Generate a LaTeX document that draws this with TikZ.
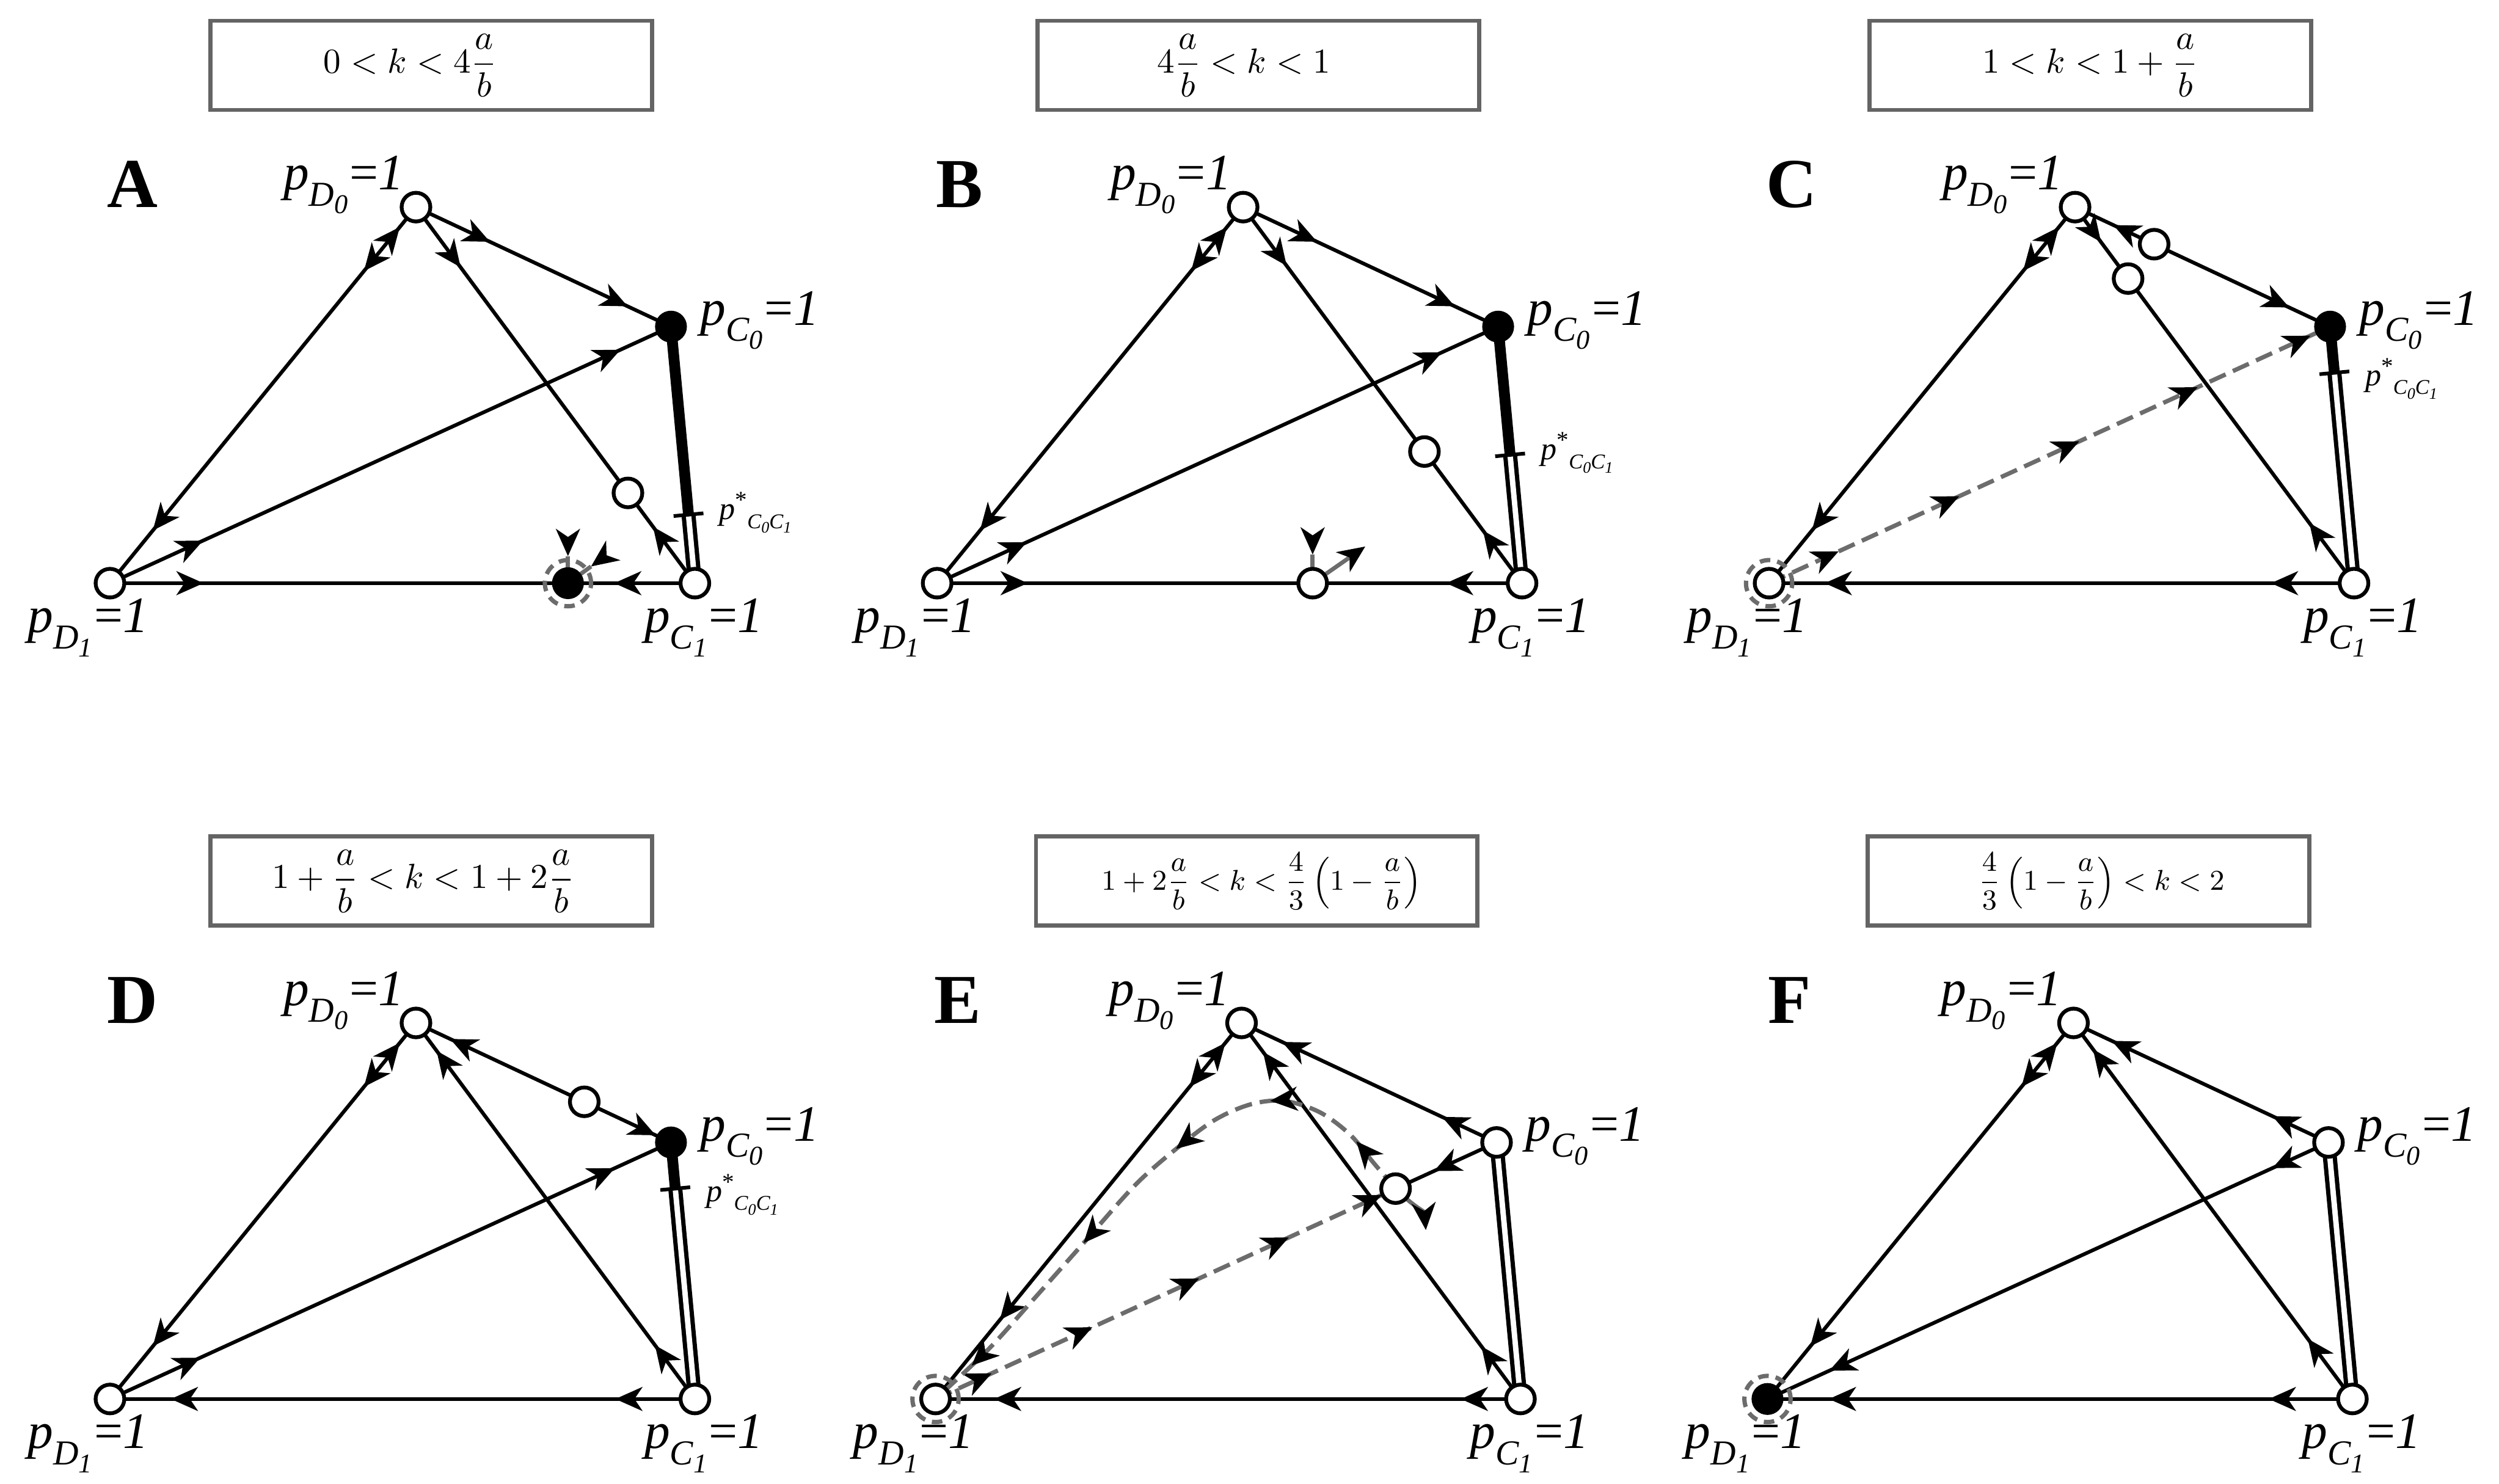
\documentclass[tikz,border=0pt]{standalone}
\usepackage{amsmath}
\usepackage{fontspec}
\newfontfamily\tms{Liberation Serif}
\usetikzlibrary{calc,arrows.meta,decorations.markings}

\definecolor{fgray}{RGB}{108,108,108}
\definecolor{bgray}{RGB}{100,100,100}

\newcommand{\plab}[2]{{\tms\itshape\fontsize{16}{18}\selectfont p\raisebox{-0.32em}{\fontsize{11}{12}\selectfont #1\raisebox{-0.22em}{\fontsize{8.5}{9}\selectfont #2}}\kern0.04em{\upshape=}1}}
\newcommand{\pstar}{{\tms\itshape\fontsize{10}{11}\selectfont p\raisebox{0.36em}{\upshape\fontsize{7.5}{8}\selectfont *}\raisebox{-0.28em}{\fontsize{6.6}{7}\selectfont C\raisebox{-0.22em}{\fontsize{5}{5}\selectfont 0}C\raisebox{-0.22em}{\fontsize{5}{5}\selectfont 1}}}}

\tikzset{
  >={Stealth[length=8.5pt,width=7.5pt,inset=2.5pt,color=black]},
  edge/.style={line width=1.15pt,black},
  arr/.style={postaction={decorate,decoration={markings,mark=at position #1 with {\arrow{>}}}}},
  rarr/.style={postaction={decorate,decoration={markings,mark=at position #1 with {\arrowreversed{>}}}}},
  mstart/.style={postaction={decorate,decoration={markings,mark=at position 0.01pt with {\arrow{>}}}}},
  dline/.style={line width=1.35pt,fgray,dash pattern=on 5.5pt off 2.5pt},
  stem/.style={line width=1.3pt,fgray},
  thk/.style={line width=3.4pt,black},
  dbl/.style={draw=black,double=white,line width=1.35pt,double distance=1.7pt},
  tickst/.style={line width=1.15pt,black},
  opn/.style={circle,draw=black,fill=white,line width=1.2pt,minimum size=9pt,inner sep=0pt},
  fpt/.style={circle,fill=black,minimum size=10pt,inner sep=0pt},
  ring/.style={circle,draw=fgray,line width=1.35pt,dash pattern=on 3.3pt off 2.2pt,minimum size=14.5pt,inner sep=0pt},
  titlebox/.style={draw=bgray,line width=1.3pt,minimum width=138.5pt,minimum height=28pt,inner sep=0pt},
  titletext/.style={inner sep=0pt},
  letter/.style={inner sep=0pt,font={\tms\bfseries\fontsize{22}{24}\selectfont}},
  lbl/.style={inner sep=0pt}
}

% #1 prefix, #2 x, #3 y, #4 letter, #5 title, #6 arrow near D1 on D0-D1, #7 text shift, #8 font size
\newcommand{\mkpanel}[8]{%
  \coordinate (#1D1) at (#2,#3);
  \coordinate (#1D0) at ($(#1D1)+(192,-236)$);
  \coordinate (#1C0) at ($(#1D1)+(352,-161)$);
  \coordinate (#1C1) at ($(#1D1)+(367,0)$);
  \node[titlebox] (#1title) at ($(#1D1)+(201.5,-325)$) {};
  \node[titletext,font=\fontsize{#8}{12}\selectfont] (#1ttext) at ($(#1title)+(#7,0)$) {#5};
  \node[letter,anchor=base] (#1letter) at ($(#1D1)+(14,-236)$) {#4};
  \node[lbl,anchor=base east] (#1lD0) at ($(#1D0)+(-7,-11)$) {\plab{D}{0}};
  \node[lbl,anchor=base west] (#1lC0) at ($(#1C0)+(18,-1)$) {\plab{C}{0}};
  \node[lbl,anchor=base west] (#1lD1) at ($(#1D1)+(-52,31)$) {\plab{D}{1}};
  \node[lbl,anchor=base west] (#1lC1) at ($(#1C1)+(-32,31)$) {\plab{C}{1}};
  \draw[edge,rarr=0.053,arr=0.17,arr=#6] (#1D0) -- (#1D1);
}
% #1 prefix, #2 vertical offset of the label
\newcommand{\ptick}[2]{%
  \draw[tickst] ($(#1P)!4.7pt!90:(#1C1)$) -- ($(#1P)!4.7pt!-90:(#1C1)$);
  \node[lbl,anchor=base west] (#1Plab) at ($(#1P)+(19,#2)$) {\pstar};
}

\begin{document}
\begin{tikzpicture}[x=0.5pt,y=-0.5pt]
\useasboundingbox (0,0) rectangle (1568,931);

% ---------------- A ----------------
\mkpanel{a}{69}{366}{A}{$0<k<4\dfrac{a}{b}$}{0.86}{-13}{10.5}
\coordinate (aQ) at ($(aD0)!0.76!(aC1)$);
\coordinate (aF) at ($(aD1)!0.783!(aC1)$);
\coordinate (aP) at ($(aC0)!0.733!(aC1)$);
\draw[edge,arr=0.29,arr=0.83] (aD0) -- (aC0);
\draw[edge,arr=0.16,rarr=0.85] (aD0) -- (aC1);
\draw[edge,arr=0.166,arr=0.91] (aD1) -- (aC0);
\draw[edge,arr=0.16,rarr=0.862] (aD1) -- (aC1);
\draw[thk] (aC0) -- (aP);
\draw[dbl] (aP) -- (aC1);
\ptick{a}{3}
\draw[stem,mstart] ($(aF)+(0,-17)$) coordinate (aS1) -- (aF);
\draw[stem,mstart] ($(aF)+(14.5,-10.5)$) coordinate (aS2) -- (aF);
\node[ring] (aFr) at (aF) {};
\node[fpt] (aFn) at (aF) {};
\node[opn] (aQn) at (aQ) {};
\node[opn] (aD0n) at (aD0) {};
\node[fpt] (aC0n) at (aC0) {};
\node[opn] (aD1n) at (aD1) {};
\node[opn] (aC1n) at (aC1) {};

% ---------------- B ----------------
\mkpanel{b}{588}{366}{B}{$4\dfrac{a}{b}<k<1$}{0.86}{-9}{10.5}
\coordinate (bQ) at ($(bD0)!0.65!(bC1)$);
\coordinate (bF) at ($(bD1)!0.642!(bC1)$);
\coordinate (bP) at ($(bC0)!0.50!(bC1)$);
\draw[edge,arr=0.29,arr=0.83] (bD0) -- (bC0);
\draw[edge,arr=0.156,rarr=0.86] (bD0) -- (bC1);
\draw[edge,arr=0.16,arr=0.90] (bD1) -- (bC0);
\draw[edge,arr=0.155,rarr=0.87] (bD1) -- (bC1);
\draw[thk] (bC0) -- (bP);
\draw[dbl] (bP) -- (bC1);
\ptick{b}{3}
\draw[stem,mstart] ($(bF)+(0,-18)$) coordinate (bS1) -- (bF);
\draw[stem,->] (bF) -- ($(bF)+(33,-23)$) coordinate (bS2);
\node[opn] (bFn) at (bF) {};
\node[opn] (bQn) at (bQ) {};
\node[opn] (bD0n) at (bD0) {};
\node[fpt] (bC0n) at (bC0) {};
\node[opn] (bD1n) at (bD1) {};
\node[opn] (bC1n) at (bC1) {};

% ---------------- C ----------------
\mkpanel{c}{1110}{366}{C}{$1<k<1+\dfrac{a}{b}$}{0.86}{0}{10.5}
\coordinate (cQ1) at ($(cD0)!0.31!(cC0)$);
\coordinate (cQ2) at ($(cD0)!0.19!(cC1)$);
\coordinate (cP) at ($(cC0)!0.18!(cC1)$);
\draw[edge,rarr=0.15,arr=0.84] (cD0) -- (cC0);
\draw[edge,arr=0.093,rarr=0.84] (cD0) -- (cC1);
\draw[dline,arr=0.124,arr=0.339,arr=0.553,arr=0.764,arr=0.965] (cD1) -- (cC0);
\draw[edge,rarr=0.095,rarr=0.858] (cD1) -- (cC1);
\draw[thk] (cC0) -- (cP);
\draw[dbl] (cP) -- (cC1);
\ptick{c}{8}
\node[ring] (cD1r) at (cD1) {};
\node[opn] (cQ1n) at (cQ1) {};
\node[opn] (cQ2n) at (cQ2) {};
\node[opn] (cD0n) at (cD0) {};
\node[fpt] (cC0n) at (cC0) {};
\node[opn] (cD1n) at (cD1) {};
\node[opn] (cC1n) at (cC1) {};

% ---------------- D ----------------
\mkpanel{d}{69}{878}{D}{$1+\dfrac{a}{b}<k<1+2\dfrac{a}{b}$}{0.86}{-5}{10.5}
\coordinate (dQ) at ($(dD0)!0.66!(dC0)$);
\coordinate (dP) at ($(dC0)!0.18!(dC1)$);
\draw[edge,rarr=0.134,arr=0.94] (dD0) -- (dC0);
\draw[edge,rarr=0.074,rarr=0.857] (dD0) -- (dC1);
\draw[edge,arr=0.161,arr=0.90] (dD1) -- (dC0);
\draw[edge,rarr=0.104,rarr=0.864] (dD1) -- (dC1);
\draw[thk] (dC0) -- (dP);
\draw[dbl] (dP) -- (dC1);
\ptick{d}{8}
\node[opn] (dQn) at (dQ) {};
\node[opn] (dD0n) at (dD0) {};
\node[fpt] (dC0n) at (dC0) {};
\node[opn] (dD1n) at (dD1) {};
\node[opn] (dC1n) at (dC1) {};

% ---------------- E ----------------
\mkpanel{e}{587}{878}{E}{$1+2\dfrac{a}{b}<k<\dfrac{4}{3}\left(1-\dfrac{a}{b}\right)$}{0.79}{3}{9.3}
\coordinate (eQ) at ($(eC0)!0.18!(eD1)$);
\draw[edge,rarr=0.159,rarr=0.786] (eD0) -- (eC0);
\draw[edge,rarr=0.077,rarr=0.86] (eD0) -- (eC1);
\draw[edge,arr=0.62] (eC0) -- (eQ);
\draw[dline,arr=0.122,arr=0.341,arr=0.573,arr=0.768,arr=0.97] (eD1) -- (eQ);
\draw[edge,rarr=0.10,rarr=0.898] (eD1) -- (eC1);
\draw[dbl] (eC0) -- (eC1);
\begin{scope}[shift={(587,878)}]
\draw[dline,arr=0.10,arr=0.26,arr=0.435,arr=0.65,arr=0.92]
  plot[smooth,tension=0.55] coordinates {(eQ) (275,-148) (260,-166) (241,-180) (219,-187) (198,-185) (175,-175) (151,-157) (125,-134) (93,-98) (61,-62) (33,-31) (eD1)};
\end{scope}
\draw[stem,->] (eQ) .. controls ($(eQ)+(12,12)$) and ($(eQ)+(18,14)$) .. ($(eQ)+(19,26)$) coordinate (eS);
\node[ring] (eD1r) at (eD1) {};
\node[opn] (eQn) at (eQ) {};
\node[opn] (eD0n) at (eD0) {};
\node[opn] (eC0n) at (eC0) {};
\node[opn] (eD1n) at (eD1) {};
\node[opn] (eC1n) at (eC1) {};

% ---------------- F ----------------
\mkpanel{f}{1109}{878}{F}{$\dfrac{4}{3}\left(1-\dfrac{a}{b}\right)<k<2$}{0.86}{8}{9.3}
\draw[edge,rarr=0.15,rarr=0.78] (fD0) -- (fC0);
\draw[edge,rarr=0.07,rarr=0.84] (fD0) -- (fC1);
\draw[edge,arr=0.10,arr=0.89] (fC0) -- (fD1);
\draw[edge,rarr=0.105,rarr=0.857] (fD1) -- (fC1);
\draw[dbl] (fC0) -- (fC1);
\node[ring] (fD1r) at (fD1) {};
\node[fpt] (fD1n) at (fD1) {};
\node[opn] (fD0n) at (fD0) {};
\node[opn] (fC0n) at (fC0) {};
\node[opn] (fC1n) at (fC1) {};

\end{tikzpicture}
\end{document}
